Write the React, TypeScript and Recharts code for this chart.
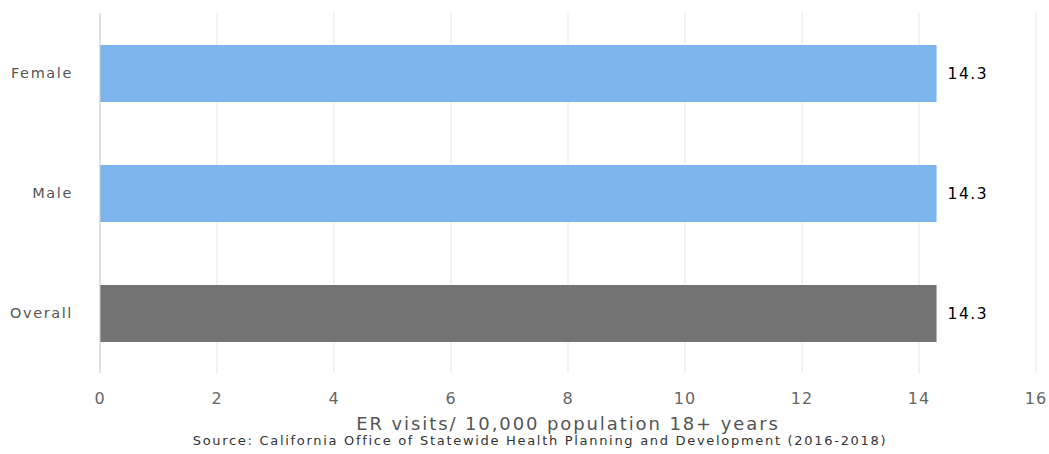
import React from 'react';
import {
  BarChart,
  Bar,
  XAxis,
  YAxis,
  CartesianGrid,
  Cell,
  LabelList,
} from 'recharts';

const categories = ['Female', 'Male', 'Overall'];
const values = [14.3, 14.3, 14.3];
const barColors = ['#7cb5ec', '#7cb5ec', '#737373'];
const xTicks = [0, 2, 4, 6, 8, 10, 12, 14, 16];

const data = categories.map((name, i) => ({ name, value: values[i] }));

const FONT = '"DejaVu Sans", Verdana, sans-serif';

function AxisTitle(props: any) {
  const { viewBox } = props;
  const cx = viewBox.x + viewBox.width / 2;
  return (
    <g>
      <text
        x={cx}
        y={viewBox.y + 57}
        textAnchor="middle"
        fill="#555"
        fontSize={18}
        letterSpacing={1.9}
        fontFamily={FONT}
      >
        ER visits/ 10,000 population 18+ years
      </text>
      <text
        x={cx - 28}
        y={viewBox.y + 72}
        textAnchor="middle"
        fill="#333"
        fontSize={13}
        letterSpacing={1.7}
        fontFamily={FONT}
      >
        Source: California Office of Statewide Health Planning and Development (2016-2018)
      </text>
    </g>
  );
}

export default function App() {
  return (
    <div style={{ position: 'absolute', left: 0, top: 0, background: '#fff' }}>
      <BarChart
        width={1049}
        height={454}
        data={data}
        layout="vertical"
        margin={{ top: 13, right: 13, bottom: 0, left: 0 }}
        style={{ fontFamily: FONT }}
      >
        <CartesianGrid horizontal={false} stroke="#e6e6e6" />
        <XAxis
          type="number"
          domain={[0, 16]}
          ticks={xTicks}
          axisLine={false}
          tickLine={false}
          tickMargin={14}
          tick={{ fill: '#666', fontSize: 16, letterSpacing: 1, fontFamily: FONT }}
          height={81}
          label={<AxisTitle />}
        />
        <YAxis
          type="category"
          dataKey="name"
          width={100}
          axisLine={{ stroke: '#ccc' }}
          tickLine={false}
          tickMargin={21}
          tick={{ fill: '#555', fontSize: 14.5, letterSpacing: 1.6, fontFamily: FONT }}
        />
        <Bar dataKey="value" barSize={57} isAnimationActive={false}>
          {data.map((_, i) => (
            <Cell key={i} fill={barColors[i]} />
          ))}
          <LabelList
            dataKey="value"
            position="right"
            offset={11}
            fill="#000"
            fontSize={15.5}
            letterSpacing={1.5}
            fontFamily={FONT}
          />
        </Bar>
      </BarChart>
    </div>
  );
}
